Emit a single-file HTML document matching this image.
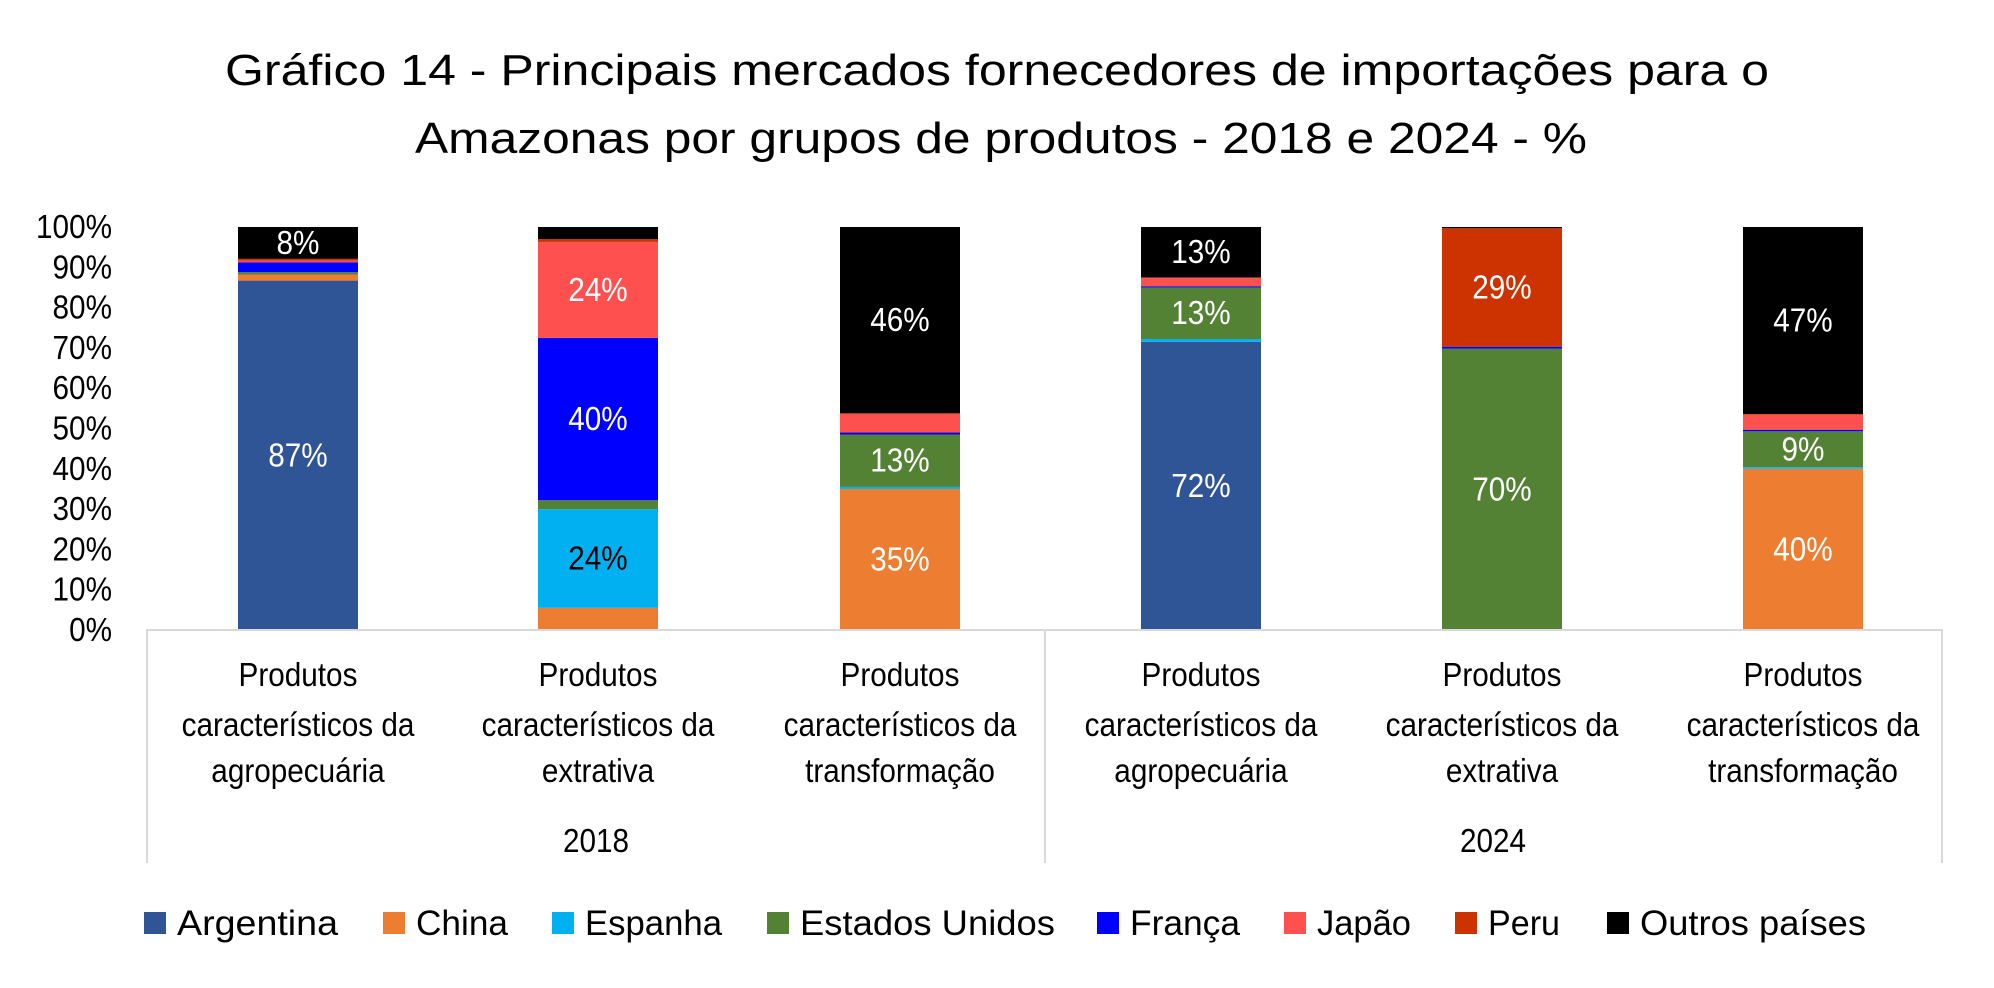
<!DOCTYPE html>
<html><head><meta charset="utf-8"><style>
html,body{margin:0;padding:0;background:#fff}
svg{display:block;font-family:"Liberation Sans",sans-serif}
</style></head><body>
<svg id="s" width="1994" height="988" viewBox="0 0 1994 988" xmlns="http://www.w3.org/2000/svg">
<text x="997" y="85" font-size="44" text-anchor="middle" textLength="1544" lengthAdjust="spacingAndGlyphs">Gráfico 14 - Principais mercados fornecedores de importações para o</text>
<text x="1001" y="153" font-size="44" text-anchor="middle" textLength="1172" lengthAdjust="spacingAndGlyphs">Amazonas por grupos de produtos - 2018 e 2024 - %</text>
<g id="ticks" font-size="33" text-anchor="end"></g>
<g id="bars"></g>
<g stroke="#d9d9d9" stroke-width="2" fill="none">
<line x1="146" y1="630" x2="1943" y2="630"/>
<line x1="147" y1="630" x2="147" y2="863"/>
<line x1="1045" y1="630" x2="1045" y2="863"/>
<line x1="1942" y1="630" x2="1942" y2="863"/>
</g>
<g id="cats" font-size="33" text-anchor="middle"></g>
<g id="leg" font-size="35"></g>
</svg>
<script>
var ns="http://www.w3.org/2000/svg";
var K=0.9;
function el(p,t,a,txt,tl){var e=document.createElementNS(ns,t);for(var k in a)e.setAttribute(k,a[k]);if(txt!=null)e.textContent=txt;document.getElementById(p).appendChild(e);
if(txt!=null){var w=tl||e.getComputedTextLength()*K;if(w>0){e.setAttribute("textLength",w);e.setAttribute("lengthAdjust","spacingAndGlyphs");}}return e;}
var y0=630,H=403;
for(var i=0;i<=10;i++){el("ticks","text",{x:112,y:y0-H*i/10+11},(i*10)+"%");}
var cols=["#2f5597","#ed7d31","#00b0f0","#548235","#0000ff","#ff5050","#cc3300","#000000"];
var data=[
[86.7,1.5,0,0.6,2.4,0.5,0.4,7.9],
[0,5.5,24.5,2.2,40.3,23.8,0.7,3.0],
[0,35,0.5,13,0.5,4.5,0.3,46.2],
[71.5,0,0.7,12.8,0.3,2,0.2,12.5],
[0,0,0,69.8,0.5,0,29.4,0.3],
[0,40,0.4,8.9,0.4,3.7,0.2,46.4]];
var labels=[
{0:"87%",7:"8%"},{2:"24%",4:"40%",5:"24%"},{1:"35%",3:"13%",7:"46%"},
{0:"72%",3:"13%",7:"13%"},{3:"70%",6:"29%"},{1:"40%",3:"9%",7:"47%"}];
var bx=[238,538,840,1141,1442,1743];
for(var b=0;b<6;b++){var acc=0;for(var s=0;s<8;s++){var v=data[b][s];if(!v)continue;
var yt=y0-H*(acc+v)/100,yb=y0-H*acc/100;
el("bars","rect",{x:bx[b],y:yt,width:120,height:yb-yt,fill:cols[s]});
if(labels[b][s]){el("bars","text",{x:bx[b]+60,y:(yt+yb)/2+11,"font-size":33,"text-anchor":"middle",fill:(s==2?"#000":"#fff")},labels[b][s]);}
acc+=v;}}
var c3=["agropecuária","extrativa","transformação"];
for(var c=0;c<6;c++){var cx=bx[c]+60;
el("cats","text",{x:cx,y:686},"Produtos");
el("cats","text",{x:cx,y:736},"característicos da");
el("cats","text",{x:cx,y:782},c3[c%3]);}
el("cats","text",{x:596,y:852},"2018");
el("cats","text",{x:1493,y:852},"2024");
var leg=[["Argentina",144,161],["China",383,92],["Espanha",552,137],["Estados Unidos",767,255],["França",1097,110],["Japão",1284,94],["Peru",1455,72],["Outros países",1607,226]];
for(var l=0;l<8;l++){el("leg","rect",{x:leg[l][1],y:912,width:22,height:22,fill:cols[l]});
el("leg","text",{x:leg[l][1]+33,y:935},leg[l][0],leg[l][2]);}
</script>
</body></html>
